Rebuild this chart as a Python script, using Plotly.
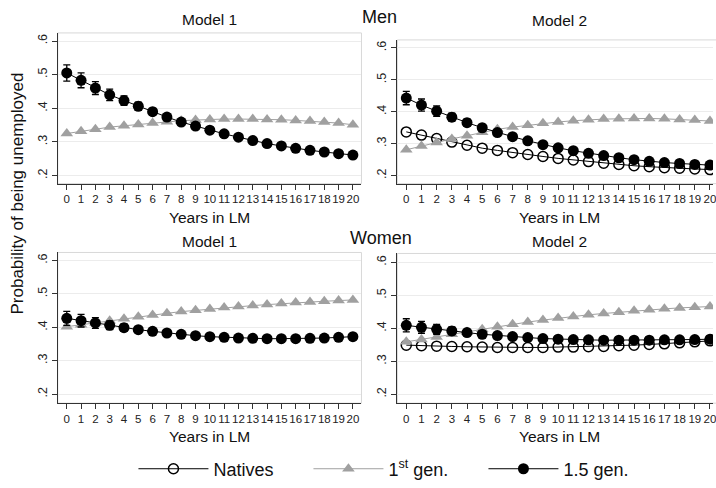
import plotly.graph_objects as go

years = list(range(21))
tick_vals_y = [0.2, 0.3, 0.4, 0.5, 0.6]
tick_text_y = [".2", ".3", ".4", ".5", ".6"]

# Men, Model 1
men_m1_first = [0.325, 0.332, 0.338, 0.344, 0.348, 0.352, 0.356, 0.360, 0.363, 0.365, 0.367,
                0.368, 0.368, 0.368, 0.367, 0.366, 0.364, 0.362, 0.359, 0.356, 0.351]
men_m1_15 = [0.505, 0.483, 0.460, 0.440, 0.423, 0.406, 0.390, 0.374, 0.359, 0.347, 0.335,
             0.324, 0.314, 0.304, 0.295, 0.288, 0.281, 0.275, 0.270, 0.265, 0.261]
men_m1_15_err = [0.024, 0.022, 0.019, 0.017, 0.014, 0.012, 0.010, 0.009, 0.008, 0.008, 0.008,
                 0.008, 0.008, 0.008, 0.008, 0.008, 0.008, 0.009, 0.009, 0.009, 0.010]

# Men, Model 2
men_m2_nat = [0.337, 0.327, 0.316, 0.305, 0.295, 0.286, 0.279, 0.272, 0.266, 0.260, 0.254,
              0.249, 0.244, 0.239, 0.235, 0.231, 0.228, 0.225, 0.223, 0.221, 0.219]
men_m2_first = [0.281, 0.293, 0.304, 0.315, 0.325, 0.336, 0.345, 0.352, 0.358, 0.364, 0.368,
                0.372, 0.375, 0.377, 0.378, 0.379, 0.379, 0.378, 0.376, 0.374, 0.371]
men_m2_15 = [0.443, 0.421, 0.402, 0.383, 0.366, 0.350, 0.335, 0.322, 0.309, 0.297, 0.287,
             0.278, 0.270, 0.263, 0.256, 0.250, 0.245, 0.241, 0.238, 0.235, 0.233]
men_m2_15_err = [0.021, 0.019, 0.016, 0.013, 0.011, 0.009, 0.008, 0.008, 0.007, 0.007, 0.007,
                 0.007, 0.007, 0.007, 0.007, 0.007, 0.007, 0.008, 0.008, 0.008, 0.008]

# Women, Model 1
wom_m1_first = [0.402, 0.408, 0.414, 0.420, 0.426, 0.432, 0.437, 0.442, 0.447, 0.451, 0.455,
                0.459, 0.462, 0.465, 0.468, 0.471, 0.474, 0.476, 0.478, 0.480, 0.482]
wom_m1_15 = [0.427, 0.420, 0.413, 0.406, 0.399, 0.393, 0.388, 0.383, 0.379, 0.375, 0.372,
             0.370, 0.368, 0.367, 0.366, 0.366, 0.366, 0.367, 0.368, 0.370, 0.372]
wom_m1_15_err = [0.021, 0.019, 0.016, 0.013, 0.011, 0.009, 0.008, 0.008, 0.007, 0.007, 0.007,
                 0.007, 0.007, 0.007, 0.007, 0.007, 0.007, 0.008, 0.008, 0.008, 0.009]

# Women, Model 2
wom_m2_nat = [0.349, 0.347, 0.346, 0.345, 0.344, 0.343, 0.342, 0.342, 0.342, 0.342, 0.343,
              0.343, 0.344, 0.345, 0.347, 0.349, 0.351, 0.353, 0.356, 0.359, 0.362]
wom_m2_first = [0.359, 0.366, 0.374, 0.382, 0.389, 0.397, 0.405, 0.412, 0.419, 0.425, 0.431,
                0.436, 0.441, 0.445, 0.449, 0.453, 0.456, 0.459, 0.462, 0.464, 0.466]
wom_m2_15 = [0.409, 0.403, 0.397, 0.392, 0.387, 0.382, 0.378, 0.375, 0.372, 0.369, 0.367,
             0.366, 0.365, 0.364, 0.364, 0.364, 0.364, 0.365, 0.365, 0.366, 0.367]
wom_m2_15_err = [0.020, 0.018, 0.015, 0.012, 0.010, 0.009, 0.008, 0.007, 0.007, 0.007, 0.007,
                 0.007, 0.007, 0.007, 0.007, 0.007, 0.007, 0.007, 0.008, 0.008, 0.008]

W, H = 716, 488
FONT = "Liberation Sans, Arial, Helvetica, sans-serif"
GRAY = "#a0a0a0"
BLACK = "#000000"

fig = go.Figure()


def nat_trace(y, xa, ya, show):
    return go.Scatter(x=years, y=y, xaxis=xa, yaxis=ya, name="Natives", legendrank=1,
                      showlegend=show, mode="lines+markers",
                      line=dict(color=BLACK, width=1),
                      marker=dict(symbol="circle-open", size=10, color=BLACK, line=dict(width=1.5)))


def first_trace(y, xa, ya, show):
    return go.Scatter(x=years, y=y, xaxis=xa, yaxis=ya, name="1<sup>st</sup> gen.", legendrank=2,
                      showlegend=show, mode="lines+markers",
                      line=dict(color=GRAY, width=1),
                      marker=dict(symbol="triangle-up", size=11, color=GRAY))


def g15_trace(y, err, xa, ya, show):
    return go.Scatter(x=years, y=y, xaxis=xa, yaxis=ya, name="1.5 gen.", legendrank=3,
                      showlegend=show, mode="lines+markers",
                      line=dict(color=BLACK, width=1),
                      marker=dict(symbol="circle", size=11, color=BLACK),
                      error_y=dict(type="data", array=err, color=BLACK, thickness=1.3, width=3.5))


# Top-left: Men Model 1
fig.add_trace(first_trace(men_m1_first, "x", "y", False))
fig.add_trace(g15_trace(men_m1_15, men_m1_15_err, "x", "y", False))
# Top-right: Men Model 2
fig.add_trace(nat_trace(men_m2_nat, "x2", "y2", True))
fig.add_trace(first_trace(men_m2_first, "x2", "y2", True))
fig.add_trace(g15_trace(men_m2_15, men_m2_15_err, "x2", "y2", True))
# Bottom-left: Women Model 1
fig.add_trace(first_trace(wom_m1_first, "x3", "y3", False))
fig.add_trace(g15_trace(wom_m1_15, wom_m1_15_err, "x3", "y3", False))
# Bottom-right: Women Model 2
fig.add_trace(nat_trace(wom_m2_nat, "x4", "y4", False))
fig.add_trace(first_trace(wom_m2_first, "x4", "y4", False))
fig.add_trace(g15_trace(wom_m2_15, wom_m2_15_err, "x4", "y4", False))

# panel pixel boxes: (left, right, top, bottom), x range, y range
panels = {
    "": ((58, 363, 33, 184), [-0.63, 20.6], [0.176, 0.624]),
    "2": ((399, 716, 40, 184), [-0.59, 20.2], [0.175, 0.625]),
    "3": ((58, 363, 253, 404), [-0.63, 20.6], [0.173, 0.624]),
    "4": ((399, 716, 254, 404), [-0.59, 20.2], [0.173, 0.627]),
}

axis_common = dict(showline=True, linecolor="#333333", linewidth=1, ticks="outside",
                   ticklen=5, tickcolor="#333333", tickwidth=1, zeroline=False)

shapes = []
for suf, ((l, r, t, b), xr, yr) in panels.items():
    xd = [l / W, min(r / W, 1.0)]
    yd = [1 - b / H, 1 - t / H]
    fig.layout["xaxis" + suf] = dict(domain=xd, range=xr, anchor="y" + suf,
                                     tickvals=years, showgrid=False, tickangle=0,
                                     ticklabeloverflow="allow",
                                     tickfont=dict(family=FONT, size=11.5, color="#222222"),
                                     **axis_common)
    fig.layout["yaxis" + suf] = dict(domain=yd, range=yr, anchor="x" + suf,
                                     tickvals=tick_vals_y, ticktext=tick_text_y, tickangle=-90,
                                     tickfont=dict(family=FONT, size=12.5, color="#222222"),
                                     showgrid=True, gridcolor="#ececec", gridwidth=1, **axis_common)
    x1 = 1.0 if r < W else 1.2
    shapes.append(dict(type="rect", xref=("x" + suf) + " domain", yref=("y" + suf) + " domain",
                       x0=0, x1=x1, y0=0, y1=1, line=dict(color="#d8d8d8", width=1), layer="below"))


def ann(text, px, py, size, angle=0):
    return dict(text=text, x=px / W, y=1 - py / H, xref="paper", yref="paper",
                showarrow=False, textangle=angle, xanchor="center", yanchor="middle",
                font=dict(family=FONT, size=size, color="#111111"))


annotations = [
    ann("Model 1", 210.5, 20, 15.5),
    ann("Model 2", 562, 21, 15.5),
    ann("Men", 381, 17, 18),
    ann("Model 1", 210.5, 242, 15.5),
    ann("Model 2", 562, 242, 15.5),
    ann("Women", 383, 238, 18),
    ann("Years in LM", 210.5, 218, 15.5),
    ann("Years in LM", 562, 218, 15.5),
    ann("Years in LM", 210.5, 437, 15.5),
    ann("Years in LM", 562, 437, 15.5),
    ann("Probability of being unemployed", 18, 194, 17, angle=-90),
]

fig.update_layout(
    width=W, height=H,
    margin=dict(l=0, r=0, t=0, b=0),
    paper_bgcolor="white", plot_bgcolor="white",
    font=dict(family=FONT, color="#111111"),
    shapes=shapes,
    annotations=annotations,
    showlegend=True,
    legend=dict(orientation="h", x=134 / W, y=1 - 470 / H, xanchor="left", yanchor="middle",
                font=dict(family=FONT, size=18, color="#111111"),
                itemwidth=70, entrywidth=90, entrywidthmode="pixels",
                bgcolor="rgba(0,0,0,0)", traceorder="normal"),
)

fig.write_html("out.html", config={"displayModeBar": False},
               post_script="document.body.style.margin='0px';")
